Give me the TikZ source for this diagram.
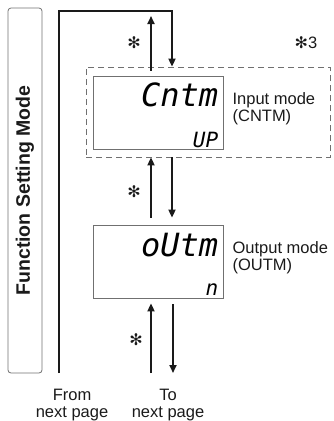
\documentclass[tikz,border=0pt]{standalone}
\usepackage{fontspec}
\setmainfont{Liberation Sans}
\newfontfamily\lcdfont{DejaVu Sans Mono}
\newfontfamily\symfont{DejaVu Sans}
\usetikzlibrary{arrows.meta, positioning, fit}
\definecolor{framegray}{HTML}{707070}
\definecolor{flowblack}{HTML}{1A1A1A}

\begin{document}
\begin{tikzpicture}[
        x=1pt, y=-1pt,
        modebar/.style={
            draw=framegray,
            rounded corners=3pt,
            line width=0.8pt,
            minimum width=34pt,
            minimum height=365pt
        },
        display/.style={
            draw=framegray,
            line width=0.8pt,
            minimum width=130pt,
            minimum height=73pt
        },
        groupbox/.style={
            draw=framegray,
            dash pattern=on 6pt off 4pt,
            line width=0.8pt,
            minimum width=244pt,
            minimum height=90pt
        },
        flowline/.style={
            line width=1.8pt,
            flowblack
        },
        flowarrow/.style={
            flowline,
            -{Triangle[length=8pt,width=7pt]}
        },
        caption/.style={
            font=\fontsize{16.5}{17}\selectfont,
            text=flowblack,
            inner sep=0pt
        },
        starmark/.style={
            font=\symfont\fontsize{16}{16}\selectfont,
            text=flowblack,
            inner sep=0pt
        },
        bigseg/.style={
            font=\lcdfont\itshape\fontsize{32}{32}\selectfont,
            inner sep=0pt
        },
        smallseg/.style={
            font=\lcdfont\itshape\fontsize{21}{21}\selectfont,
            inner sep=0pt
        }
    ]

        \useasboundingbox (0,0) rectangle (333,421);

        % ---------------------------------------------------------------------
        % Side bar
        % ---------------------------------------------------------------------

        \node[modebar] (bar) at (25,190.5) {};

        \node[
            rotate=90,
            font=\bfseries\fontsize{19.5}{19.5}\selectfont,
            text=flowblack
        ] (title) at (bar.center) {Function Setting Mode};

        % ---------------------------------------------------------------------
        % Displays
        % ---------------------------------------------------------------------

        \node[display] (cntm) at (158,112.5) {};

        \node[display] (outm) at (158,261.5) {};

        \node[groupbox] (group) at (208,112) {};

        \node[bigseg, anchor=base east] (cntmtop)
            at ([xshift=-5pt, yshift=6pt]cntm.east) {Cntm};

        \node[smallseg, anchor=base east] (cntmval)
            at ([xshift=-5pt, yshift=2pt]cntm.south east) {UP};

        \node[bigseg, anchor=base east] (outmtop)
            at ([xshift=-5pt, yshift=5pt]outm.east) {oUtm};

        \node[smallseg, anchor=base east] (outmval)
            at ([xshift=-5pt, yshift=3pt]outm.south east) {n};

        \node[
            caption,
            align=left,
            anchor=west,
            right=9pt of cntm,
            yshift=4pt
        ] (cntmlabel) {Input mode\\(CNTM)};

        \node[
            caption,
            align=left,
            anchor=west,
            right=9pt of outm,
            yshift=4pt
        ] (outmlabel) {Output mode\\(OUTM)};

        % ---------------------------------------------------------------------
        % Connectors
        % ---------------------------------------------------------------------

        \coordinate (fromend) at (59,373);
        \coordinate (topleft) at (59,11);
        \coordinate (upend) at (151,373);
        \coordinate (toend) at (173,373);

        % Return line from the next page into the input mode.
        \draw[flowarrow]
            (fromend)
            -- (topleft)
            -| ([xshift=14pt]cntm.north |- group.north);

        \draw[flowarrow, shorten >=5pt]
            ([xshift=-7pt, yshift=-4pt]cntm.north |- group.north)
            -- ([xshift=-7pt]cntm.north |- topleft);

        \draw[flowarrow]
            ([xshift=-7pt, yshift=7pt]outm.north)
            -- ([xshift=-7pt]cntm.north |- group.south);

        \draw[flowarrow, shorten >=7pt]
            ([xshift=14pt]cntm.north |- group.south)
            -- ([xshift=14pt]outm.north);

        \draw[flowarrow, shorten >=5pt]
            (upend) -- ([xshift=-7pt]outm.south);

        \draw[flowarrow, shorten <=6pt]
            ([xshift=15pt]outm.south) -- (toend);

        % ---------------------------------------------------------------------
        % Marks and labels
        % ---------------------------------------------------------------------

        \node[starmark] (startop) at (134,43) {✻};
        \node[starmark] (starmid) at (134,192) {✻};
        \node[starmark] (starlow) at (136,340) {✻};

        \node[caption] (note) at (306,43) {{\symfont\fontsize{16}{16}\selectfont ✻}3};

        \node[caption, align=center] (fromlabel) at (72,405.5) {From\\next page};

        \node[caption, align=center] (tolabel) at (168,405.5) {To\\next page};

    \end{tikzpicture}
\end{document}
